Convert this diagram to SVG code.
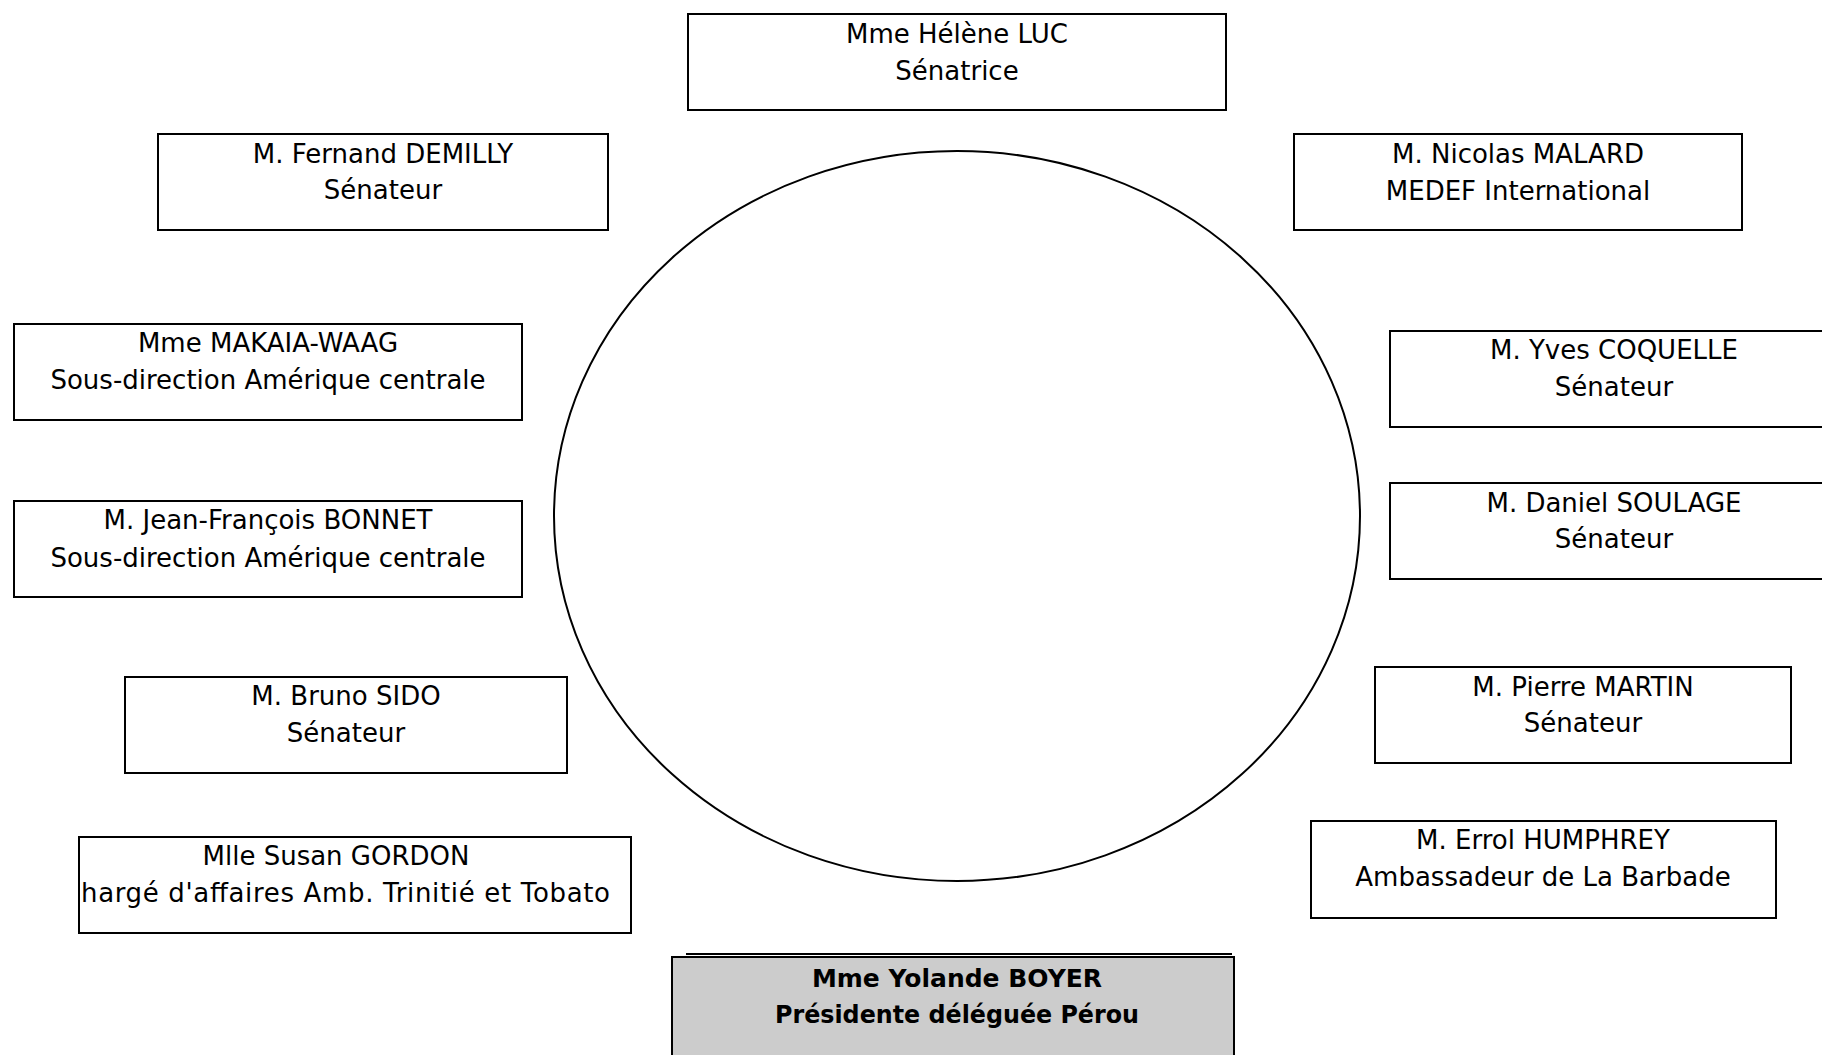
<svg xmlns="http://www.w3.org/2000/svg" width="1822" height="1055" viewBox="0 0 1822 1055">
<style>
.box{fill:#fff;stroke:#000;stroke-width:2}
.t{font-family:"DejaVu Sans",Verdana,sans-serif;font-size:26px;fill:#000;text-anchor:middle}
.b{font-family:"DejaVu Sans",Verdana,sans-serif;font-size:25px;font-weight:bold;fill:#000;text-anchor:middle}
</style>
<rect width="1822" height="1055" fill="#fff"/>
<g id="connectors">
<ellipse id="table" cx="957" cy="516" rx="403" ry="365" fill="none" stroke="#000" stroke-width="2"/>
</g>
<g id="luc"><rect class="box" x="688" y="14" width="538" height="96"/>
<text class="t" x="957" y="43">Mme Hélène LUC</text><text class="t" x="957" y="80">Sénatrice</text></g>
<g id="demilly"><rect class="box" x="158" y="134" width="450" height="96"/>
<text class="t" x="383" y="163">M. Fernand DEMILLY</text><text class="t" x="383" y="199">Sénateur</text></g>
<g id="malard"><rect class="box" x="1294" y="134" width="448" height="96"/>
<text class="t" x="1518" y="163">M. Nicolas MALARD</text><text class="t" x="1518" y="200">MEDEF International</text></g>
<g id="makaia"><rect class="box" x="14" y="324" width="508" height="96"/>
<text class="t" x="268" y="352">Mme MAKAIA-WAAG</text><text class="t" x="268" y="389">Sous-direction Amérique centrale</text></g>
<g id="bonnet"><rect class="box" x="14" y="501" width="508" height="96"/>
<text class="t" x="268" y="529">M. Jean-François BONNET</text><text class="t" x="268" y="567">Sous-direction Amérique centrale</text></g>
<g id="sido"><rect class="box" x="125" y="677" width="442" height="96"/>
<text class="t" x="346" y="705">M. Bruno SIDO</text><text class="t" x="346" y="742">Sénateur</text></g>
<g id="gordon"><rect class="box" x="79" y="837" width="552" height="96"/>
<text class="t" x="336" y="865">Mlle Susan GORDON</text><text class="t" x="81" y="902" style="text-anchor:start" textLength="529" lengthAdjust="spacing">hargé d'affaires Amb. Trinitié et Tobato</text></g>
<g id="coquelle"><rect class="box" x="1390" y="331" width="450" height="96"/>
<text class="t" x="1614" y="359">M. Yves COQUELLE</text><text class="t" x="1614" y="396">Sénateur</text></g>
<g id="soulage"><rect class="box" x="1390" y="483" width="450" height="96"/>
<text class="t" x="1614" y="512">M. Daniel SOULAGE</text><text class="t" x="1614" y="548">Sénateur</text></g>
<g id="martin"><rect class="box" x="1375" y="667" width="416" height="96"/>
<text class="t" x="1583" y="696">M. Pierre MARTIN</text><text class="t" x="1583" y="732">Sénateur</text></g>
<g id="humphrey"><rect class="box" x="1311" y="821" width="465" height="97"/>
<text class="t" x="1543" y="849">M. Errol HUMPHREY</text><text class="t" x="1543" y="886">Ambassadeur de La Barbade</text></g>
<g id="boyer"><line x1="686" y1="954" x2="1232" y2="954" stroke="#000" stroke-width="2"/>
<rect x="672" y="957" width="562" height="110" fill="#cccccc" stroke="#000" stroke-width="2"/>
<text class="b" x="957" y="987">Mme Yolande BOYER</text><text class="b" x="957" y="1023" textLength="364" lengthAdjust="spacingAndGlyphs">Présidente déléguée Pérou</text></g>
</svg>
